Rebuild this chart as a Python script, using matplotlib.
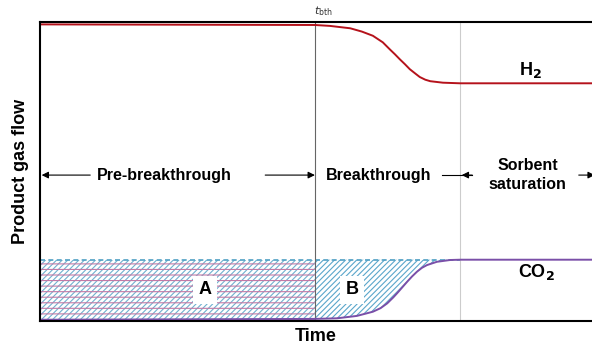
import matplotlib.pyplot as plt

plt.rcParams['font.family'] = ['Liberation Sans', 'DejaVu Sans']
plt.rcParams['hatch.linewidth'] = 0.8

# readings (time and flow both on a 0-100 scale)
t_bth = 49.8
t_sat = 76.1

h2_time = [0, 49.8, 52.5, 56.2, 58.3, 60.3, 62.1, 63.4, 64.3, 65.2, 66.1, 67.0, 68.1,
           68.8, 69.8, 70.7, 73.0, 76.1, 100]
h2_flow = [99.2, 99.0, 98.7, 97.9, 96.8, 95.4, 93.2, 90.8, 89.2, 87.5, 85.9, 84.2, 82.6,
           81.6, 80.7, 80.2, 79.7, 79.5, 79.5]

co2_time = [0, 49.8, 53.8, 57.4, 60.3, 61.7, 62.9, 64.0, 64.7, 65.6, 66.5, 67.4, 68.3,
            69.2, 70.1, 71.9, 74.3, 76.1, 100]
co2_flow = [0.4, 0.7, 0.9, 1.7, 3.1, 4.3, 5.9, 7.9, 9.3, 11.2, 13.1, 14.9, 16.5,
            17.8, 18.7, 19.8, 20.4, 20.5, 20.5]
co2_feed = 20.5

phase_labels = ["Pre-breakthrough", "Breakthrough", "Sorbent\nsaturation"]

fig = plt.figure(figsize=(5.92, 3.5), dpi=100)
ax = fig.add_axes([40 / 592, 29 / 350, 552 / 592, 299 / 350])
ax.set_xlim(0, 100)
ax.set_ylim(0, 100)

# area A: sorbent uptake before breakthrough
ax.fill_between([0, t_bth], 0, co2_feed, facecolor='white', edgecolor='#6fb0cf',
                hatch='//////', linewidth=0)
ax.fill_between([0, t_bth], 0, co2_feed, facecolor='none', edgecolor='#c27aa6',
                hatch='---', linewidth=0)

# area B: uptake during breakthrough
b_time = [t for t in co2_time if t_bth <= t <= t_sat]
b_flow = [f for t, f in zip(co2_time, co2_flow) if t_bth <= t <= t_sat]
ax.fill_between(b_time, b_flow, co2_feed, facecolor='white', edgecolor='#5aa6cb',
                hatch='//////', linewidth=0)
ax.plot([0, t_sat], [co2_feed, co2_feed], color='#4f9fc4', lw=1.2, ls=(0, (3, 2)))

ax.axvline(t_bth, color='#666666', lw=0.8)
ax.axvline(t_sat, color='#cccccc', lw=0.8)

ax.plot(h2_time, h2_flow, color='#b5121b', lw=1.4)
ax.plot(co2_time, co2_flow, color='#7a4fa8', lw=1.4)

for s in ['left', 'top', 'bottom']:
    ax.spines[s].set_linewidth(1.5)
ax.spines['right'].set_visible(False)
ax.set_xticks([])
ax.set_yticks([])
ax.set_xlabel("Time", fontsize=13, fontweight='bold', labelpad=5)
ax.set_ylabel("Product gas flow", fontsize=13, fontweight='bold', labelpad=8)

ax.text(t_bth + 1.5, 101.3, r"$t_{\mathrm{bth}}$", fontsize=8, color='#333333',
        ha='center', va='bottom')
ax.text(88.8, 84, r"H$_\mathbf{2}$", fontsize=13, fontweight='bold', ha='center', va='center')
ax.text(90, 16.4, r"CO$_\mathbf{2}$", fontsize=13, fontweight='bold', ha='center', va='center')

box = dict(facecolor='white', edgecolor='none', pad=4)
ax.text(29.9, 10.4, "A", fontsize=13, fontweight='bold', ha='center', va='center', bbox=box)
ax.text(56.5, 10.4, "B", fontsize=13, fontweight='bold', ha='center', va='center', bbox=box)

ya = 48.8
ax.text(22.6, ya, phase_labels[0], fontsize=11.5, fontweight='bold', ha='center', va='center')
ax.text(61.3, ya, phase_labels[1], fontsize=11.5, fontweight='bold', ha='center', va='center')
ax.text(88.3, ya, phase_labels[2], fontsize=11.5, fontweight='bold', ha='center', va='center',
        linespacing=1.3)

arrow = dict(arrowstyle='-|>', color='black', lw=0.8, mutation_scale=10, shrinkA=0, shrinkB=0)
ax.annotate("", xy=(0.3, ya), xytext=(9.1, ya), arrowprops=arrow)
ax.annotate("", xy=(t_bth, ya), xytext=(40.8, ya), arrowprops=arrow)
ax.plot([72.8, 78.3], [ya, ya], color='black', lw=0.8)
ax.annotate("", xy=(t_sat + 0.3, ya), xytext=(78.3, ya), arrowprops=arrow)
ax.annotate("", xy=(100.5, ya), xytext=(97.6, ya), arrowprops=arrow, annotation_clip=False)

fig.savefig("out.png", dpi=100)
